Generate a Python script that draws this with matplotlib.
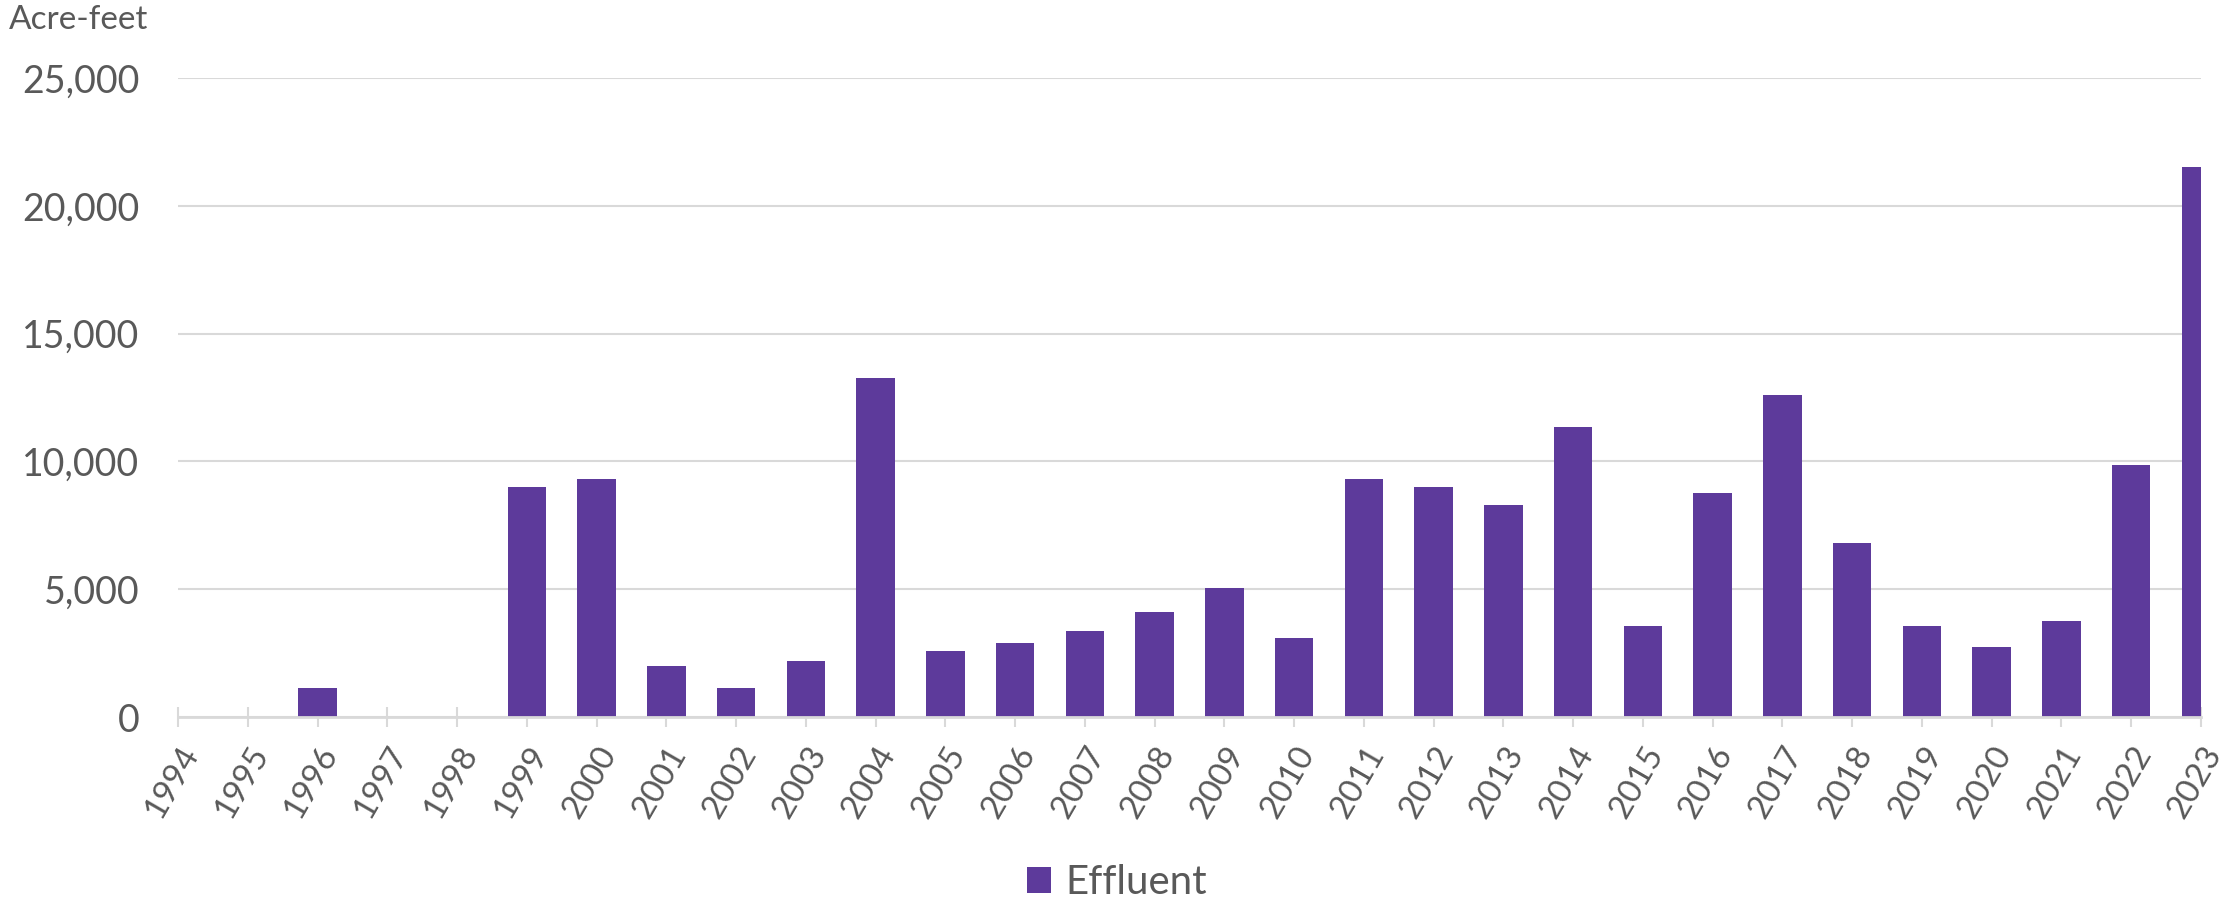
import numpy as np
import matplotlib.pyplot as plt

years = [str(y) for y in range(1994, 2024)]
effluent = [0, 0, 1150, 0, 0, 9000, 9300, 2000, 1150, 2200,
            13250, 2600, 2900, 3350, 4100, 5050, 3100, 9300, 9000, 8300,
            11350, 3550, 8750, 12600, 6800, 3550, 2750, 3750, 9850, 21500]

BAR_COLOR = '#5D3A9B'
TEXT_COLOR = '#595959'
GRID_COLOR = '#D9D9D9'

plt.rcParams['font.family'] = ['Lato', 'DejaVu Sans']

fig = plt.figure(figsize=(22.34, 9.06), dpi=100)
ax = fig.add_axes([0.0797, 0.2086, 0.9055, 0.7053])

x = np.arange(len(years))
ax.bar(x, effluent, width=0.55, color=BAR_COLOR, label='Effluent', zorder=2)

ax.set_xlim(0, len(years) - 1)
ax.set_ylim(0, 25000)
ax.set_yticks(range(0, 25001, 5000))
ax.set_yticklabels([f'{v:,}' for v in range(0, 25001, 5000)])
ax.set_xticks(x)
ax.set_xticklabels(years, rotation=60, ha='right', rotation_mode='anchor')

ax.grid(axis='y', color=GRID_COLOR, linewidth=1.5, zorder=0)
for side in ['top', 'right', 'left']:
    ax.spines[side].set_visible(False)
ax.spines['bottom'].set_color(GRID_COLOR)
ax.spines['bottom'].set_linewidth(2)
ax.spines['bottom'].set_zorder(3)

ax.tick_params(axis='y', length=0, labelsize=27, labelcolor=TEXT_COLOR, pad=28)
ax.tick_params(axis='x', direction='inout', length=14, width=1.5, color=GRID_COLOR,
               labelsize=24, labelcolor=TEXT_COLOR, pad=10)

fig.text(0.004, 0.995, 'Acre-feet', fontsize=24, color=TEXT_COLOR, va='top', ha='left')

leg = fig.legend(loc='lower center', bbox_to_anchor=(0.5, -0.035), frameon=False,
                 fontsize=29, handlelength=0.6, handleheight=0.6, handletextpad=0.35)
for t in leg.get_texts():
    t.set_color(TEXT_COLOR)

fig.savefig('out.png', dpi=100)
